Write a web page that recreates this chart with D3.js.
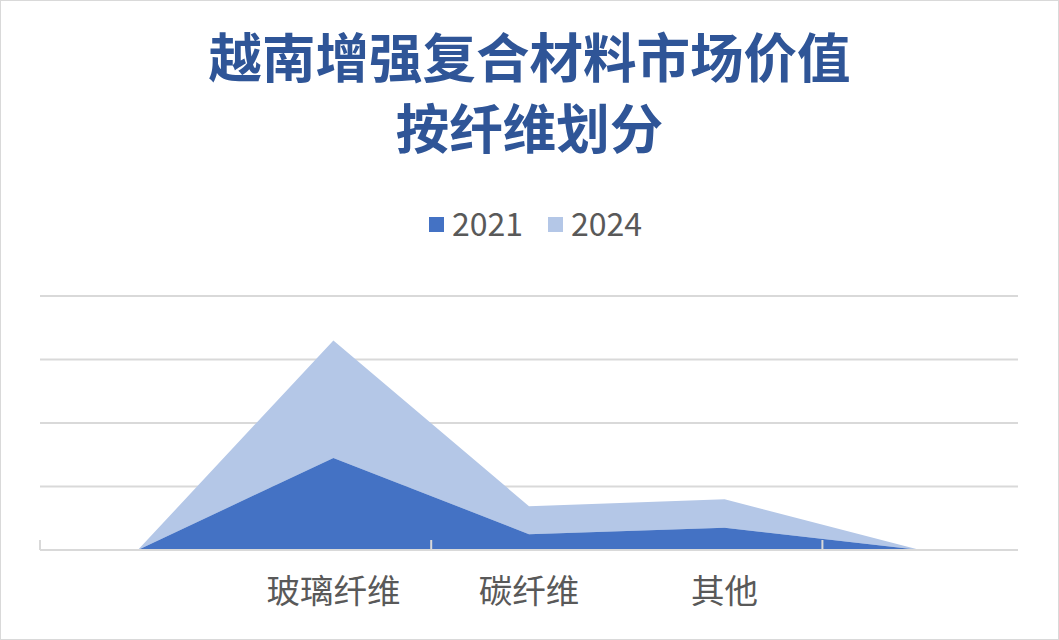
<!DOCTYPE html>
<html><head><meta charset="utf-8">
<script src="https://cdn.jsdelivr.net/npm/d3@7"></script>
<style>html,body{margin:0;padding:0;background:#fff;}svg{display:block;}</style>
</head><body>
<svg id="chart" width="1059" height="640"></svg>
<script>
const categories = ["", "玻璃纤维", "碳纤维", "其他", ""];
const series = ["2021", "2024"];
const values2021 = [0, 1.45, 0.25, 0.35, 0];
const values2024 = [0, 1.85, 0.44, 0.45, 0];
const yTicks = [0, 1, 2, 3, 4];
const titleLines = ["越南增强复合材料市场价值", "按纤维划分"];
const colors = ["#4472C4", "#B4C7E7"];

const W = 1059, H = 640;
const svg = d3.select("#chart");
const font = "'Noto Sans CJK SC','Noto Sans',sans-serif";

svg.append("rect").attr("x",0.5).attr("y",0.5).attr("width",W-1).attr("height",H-1)
  .attr("fill","#fff").attr("stroke","#d9d9d9").attr("stroke-width",1);

const plot = {left:40, right:1018, top:296, bottom:550};
const x = d3.scaleBand().domain(d3.range(categories.length)).range([plot.left, plot.right]).padding(0);
const y = d3.scaleLinear().domain([0, 4]).range([plot.bottom, plot.top]);

// gridlines
svg.append("g").selectAll("line").data(yTicks).join("line")
  .attr("x1", plot.left).attr("x2", plot.right)
  .attr("y1", d=>y(d)).attr("y2", d=>y(d))
  .attr("stroke", "#d9d9d9").attr("stroke-width", 2);

// stacked areas
const rows = categories.map((c,i)=>({i, "2021": values2021[i], "2024": values2024[i]}));
const stack = d3.stack().keys(series)(rows);
const area = d3.area()
  .x(d => x(d.data.i) + x.bandwidth()/2)
  .y0(d => y(d[0])).y1(d => y(d[1]));
svg.append("g").selectAll("path").data(stack.slice().reverse()).join("path")
  .attr("d", area)
  .attr("fill", d => colors[series.indexOf(d.key)]);

// redraw baseline over area
svg.append("line").attr("x1", plot.left).attr("x2", plot.right)
  .attr("y1", y(0)).attr("y2", y(0)).attr("stroke","#d9d9d9").attr("stroke-width",2);

// tick marks every second category boundary
const tickIdx = d3.range(0, categories.length+1, 2);
svg.append("g").selectAll("line").data(tickIdx).join("line")
  .attr("x1", d => plot.left + d*x.bandwidth()).attr("x2", d => plot.left + d*x.bandwidth())
  .attr("y1", y(0)).attr("y2", y(0)-10)
  .attr("stroke","#d9d9d9").attr("stroke-width",2);

// category labels
svg.append("g").selectAll("text").data(categories).join("text")
  .attr("x", (d,i) => x(i) + x.bandwidth()/2).attr("y", 603)
  .attr("text-anchor","middle").attr("font-family", font).attr("font-size", 33.5)
  .attr("fill","#595959").text(d=>d);

// title
svg.append("g").selectAll("text").data(titleLines).join("text")
  .attr("x", 529.5).attr("y", (d,i)=> 78 + i*71)
  .attr("text-anchor","middle").attr("font-family", font).attr("font-weight","bold")
  .attr("font-size", 53.5).attr("fill","#2F5597").text(d=>d);

// legend
const legendX = [429, 548];
const lg = svg.append("g").selectAll("g").data(series).join("g")
  .attr("transform",(d,i)=>`translate(${legendX[i]},0)`);
lg.append("rect").attr("x",0).attr("y",217).attr("width",15).attr("height",15)
  .attr("fill",(d,i)=>colors[i]);
lg.append("text").attr("x",23).attr("y",236).attr("font-family",font).attr("font-size",32)
  .attr("fill","#595959").text(d=>d);
</script>
</body></html>
